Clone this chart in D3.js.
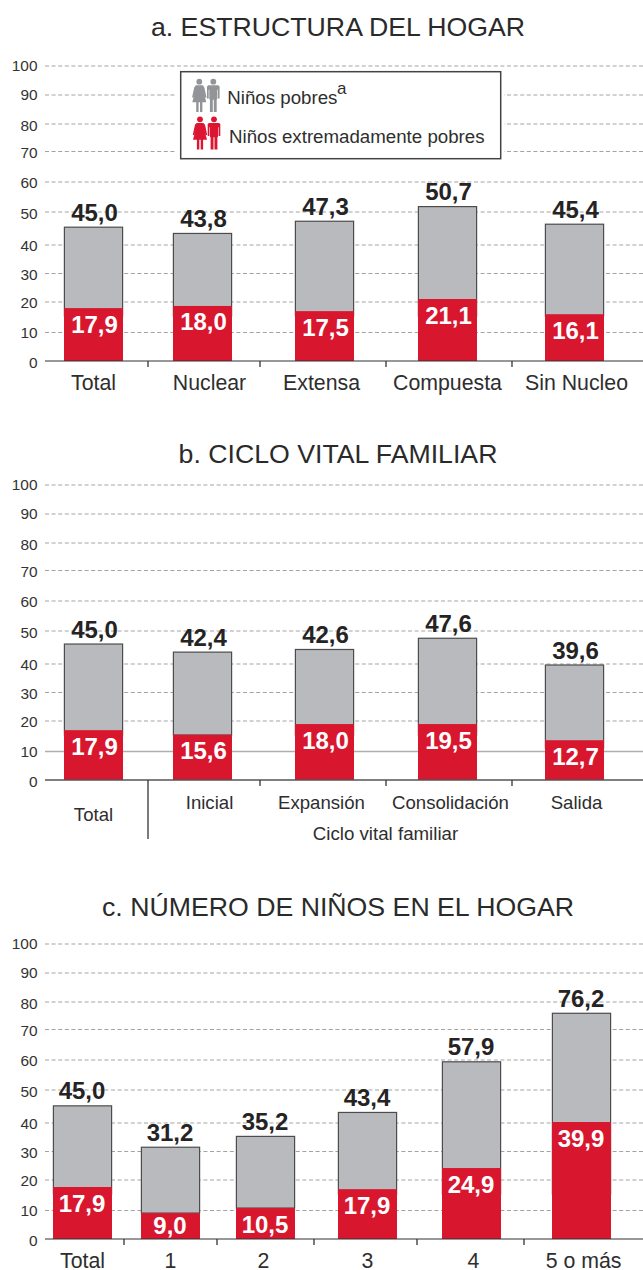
<!DOCTYPE html>
<html lang="es"><head><meta charset="utf-8">
<style>html,body{margin:0;padding:0;background:#fff}svg{display:block}text{font-family:"Liberation Sans",Arial,sans-serif}</style>
<script src="https://cdn.jsdelivr.net/npm/d3@7"></script></head>
<body><div id="chart"></div>
<script>
// Shared tick values. The printed chart's gridlines are not evenly spaced, so the scale is piecewise.
const tickValues = [0,10,20,30,40,50,60,70,80,90,100];

// a. Estructura del hogar
const catsA = ["Total","Nuclear","Extensa","Compuesta","Sin Nucleo"];
const poorA = [45.0,43.8,47.3,50.7,45.4];
const extremeA = [17.9,18.0,17.5,21.1,16.1];
const poorDrawnA = [45.4,43.5,47.2,51.8,46.3];
const extremeDrawnA = [18.0,18.7,17.0,21.05,16.0];
const stubA = [15.4,15.4,15.4,15.4,15.4];

// b. Ciclo vital familiar
const catsB = ["Total","Inicial","Expansión","Consolidación","Salida"];
const poorB = [45.0,42.4,42.6,47.6,39.6];
const extremeB = [17.9,15.6,18.0,19.5,12.7];
const poorDrawnB = [46.05,43.6,44.4,47.8,39.65];
const extremeDrawnB = [17.0,15.5,19.0,19.0,13.7];
const stubB = [15.4,15.4,15.4,15.4,11.1];

// c. Número de niños en el hogar
const catsC = ["Total","1","2","3","4","5 o más"];
const poorC = [45.0,31.2,35.2,43.4,57.9,76.2];
const extremeC = [17.9,9.0,10.5,17.9,24.9,39.9];
const poorDrawnC = [45.2,31.5,35.3,43.2,59.4,75.9];
const extremeDrawnC = [17.7,9.1,10.8,17.0,24.2,40.3];
const stubC = [15.4,9.1,10.8,15.4,15.4,15.4];

const titles = ["a. ESTRUCTURA DEL HOGAR","b. CICLO VITAL FAMILIAR","c. NÚMERO DE NIÑOS EN EL HOGAR"];
const legendLabels = ["Niños pobres","Niños extremadamente pobres"];
const axisNoteB = "Ciclo vital familiar";

const W=643,H=1270,RED="#d8172f",GREY="#b9babd",INK="#262324";
const svg=d3.select("#chart").append("svg").attr("width",W).attr("height",H);

const gridRange=[0,-28.5,-59,-87.5,-116,-149,-179,-209.5,-237,-266,-295];
const labelRange=[6.7,-24,-54,-82,-111,-143,-173.3,-204,-230.3,-261.7,-291];
const y=d3.scaleLinear().domain(tickValues).range(gridRange);
const yLabel=d3.scaleLinear().domain(tickValues).range(labelRange);
const fmt=v=>d3.format(".1f")(v).replace(".",",");

function panel(o){
  const g=svg.append("g").attr("transform",`translate(0,${o.base})`);
  svg.append("text").attr("x",338).attr("y",o.titleY).attr("text-anchor","middle")
    .attr("font-size",26.7).attr("fill","#2a2a2a").text(o.title);
  const xBar=d3.scaleOrdinal().domain(o.cats).range(o.barX);
  const xText=d3.scaleOrdinal().domain(o.cats).range(o.labelX);
  const bw=59;
  // gridlines
  g.selectAll(".grid").data(tickValues.filter(d=>d>0)).join("line")
    .attr("x1",45).attr("x2",W).attr("y1",d=>y(d)).attr("y2",d=>y(d))
    .attr("stroke",d=>d===o.solid?"#aeaeae":"#a3a3a3")
    .attr("stroke-width",d=>d===o.solid?1.6:1.1)
    .attr("stroke-dasharray",d=>d===o.solid?null:"4 2.6");
  // y axis labels
  const ya=g.append("g").attr("transform","translate(37.5,0)")
    .call(d3.axisLeft(yLabel).tickValues(tickValues).tickSize(0).tickPadding(0));
  ya.select(".domain").remove();
  ya.selectAll("text").attr("dy",0).attr("font-size",15.4).attr("font-family",null).attr("fill","#333");
  // bars
  const rows=o.cats.map((c,i)=>({c,p:o.poor[i],e:o.ext[i],pd:o.poorDrawn[i],ed:o.extDrawn[i],s:o.stub[i]}));
  g.selectAll(".g").data(rows).join("rect")
    .attr("x",d=>xBar(d.c)+.4).attr("width",bw-.8)
    .attr("y",d=>y(d.pd)).attr("height",d=>y(d.s)-y(d.pd))
    .attr("fill",GREY).attr("stroke","#4c4c4c").attr("stroke-width",1.2);
  g.selectAll(".r").data(rows).join("rect")
    .attr("x",d=>xBar(d.c)).attr("width",bw)
    .attr("y",d=>y(d.ed)).attr("height",d=>y(0)-y(d.ed)).attr("fill",RED);
  // x axis
  const xa=g.append("g").call(d3.axisBottom(xText).tickSize(0).tickPadding(0));
  xa.select(".domain").remove();
  xa.selectAll("text").attr("dy",0).attr("y",o.labelY).attr("font-size",o.labelSize).attr("font-family",null).attr("fill","#2e2e2e");
  if(o.totalY) xa.selectAll("text").filter(d=>d==="Total").attr("y",o.totalY);
  g.append("line").attr("x1",45).attr("x2",W).attr("y1",0).attr("y2",0).attr("stroke",o.axisColor).attr("stroke-width",o.axisW);
  g.selectAll(".t").data(o.ticks).join("line")
    .attr("x1",d=>d).attr("x2",d=>d).attr("y1",0).attr("y2",(d,i)=>i===0&&o.longTick?o.longTick:6)
    .attr("stroke","#333").attr("stroke-width",1.3);
  // value labels
  g.selectAll(".vp").data(rows).join("text")
    .attr("x",d=>xBar(d.c)+bw/2+o.valueDx).attr("y",d=>y(d.pd)-6.5).attr("text-anchor","middle")
    .attr("font-size",24).attr("font-weight","bold").attr("fill",INK).text(d=>fmt(d.p));
  g.selectAll(".ve").data(rows).join("text")
    .attr("x",d=>xBar(d.c)+bw/2+o.valueDx).attr("y",d=>Math.min(y(d.ed)+24.5,-5)).attr("text-anchor","middle")
    .attr("font-size",24).attr("font-weight","bold").attr("fill","#fff").text(d=>fmt(d.e));
  return g;
}

panel({base:361,titleY:36,title:titles[0],cats:catsA,poor:poorA,ext:extremeA,poorDrawn:poorDrawnA,extDrawn:extremeDrawnA,stub:stubA,valueDx:1,
  barX:[64,173,295,418,545],labelX:[93,209,321,447,576],labelY:29,labelSize:21.3,ticks:[148,260,386,512],axisColor:"#333",axisW:1.2});
const gb=panel({base:780,titleY:463,title:titles[1],cats:catsB,poor:poorB,ext:extremeB,poorDrawn:poorDrawnB,extDrawn:extremeDrawnB,stub:stubB,valueDx:1,
  barX:[64,173,295,418,545],labelX:[93,209,321,450,576],labelY:29,totalY:41,labelSize:18.6,ticks:[148,260,386,512],longTick:59,solid:10,axisColor:"#555",axisW:1.6});
gb.append("text").attr("x",385.5).attr("y",60).attr("text-anchor","middle").attr("font-size",18.7).attr("fill","#2e2e2e").text(axisNoteB);
panel({base:1239,titleY:916,title:titles[2],cats:catsC,poor:poorC,ext:extremeC,poorDrawn:poorDrawnC,extDrawn:extremeDrawnC,stub:stubC,valueDx:-0.5,
  barX:[53,141,236,338,442,552],labelX:[82,170,263,367,473,583],labelY:28.5,labelSize:21.3,ticks:[124,217,314,417,524],axisColor:"#333",axisW:1.2});

// legend
const lg=svg.append("g");
lg.append("rect").attr("x",177).attr("y",69).attr("width",327).attr("height",93).attr("fill","#fff");
lg.append("rect").attr("x",180.7).attr("y",71.7).attr("width",320).attr("height",87).attr("fill","#fff").attr("stroke","#444").attr("stroke-width",1.5);
function people(cx,cy,col){
  const w=lg.append("g").attr("transform",`translate(${cx},${cy})`).attr("fill",col);
  w.append("circle").attr("cx",0).attr("cy",0).attr("r",2.9);
  w.append("path").attr("d","M-3.4 3.6H3.4L5 5.5L7.2 15.5L5.9 16L4.3 10.5L7 20.5H3.1V30.3H.7V20.5H-.7V30.3H-3.1V20.5H-7L-4.3 10.5L-5.9 16L-7.2 15.5L-5 5.5Z");
  const m=lg.append("g").attr("transform",`translate(${cx+14},${cy})`).attr("fill",col);
  m.append("circle").attr("cx",0).attr("cy",0).attr("r",2.9);
  m.append("path").attr("d","M-5 3.6H5L6.3 4.8V16.8H4.6V8H4V17.6H3.4V30.3H.5V18H-.5V30.3H-3.4V17.6H-4V8H-4.6V16.8H-6.3V4.8Z");
}
people(199.3,81.7,"#929497");
people(200,119.3,"#dc1632");
lg.append("text").attr("x",227.3).attr("y",104).attr("font-size",18.7).attr("fill","#2e2e2e").text(legendLabels[0]);
lg.append("text").attr("x",337).attr("y",93.5).attr("font-size",17).attr("fill","#2e2e2e").text("a");
lg.append("text").attr("x",229).attr("y",142.7).attr("font-size",18.7).attr("fill","#2e2e2e").text(legendLabels[1]);
</script></body></html>
